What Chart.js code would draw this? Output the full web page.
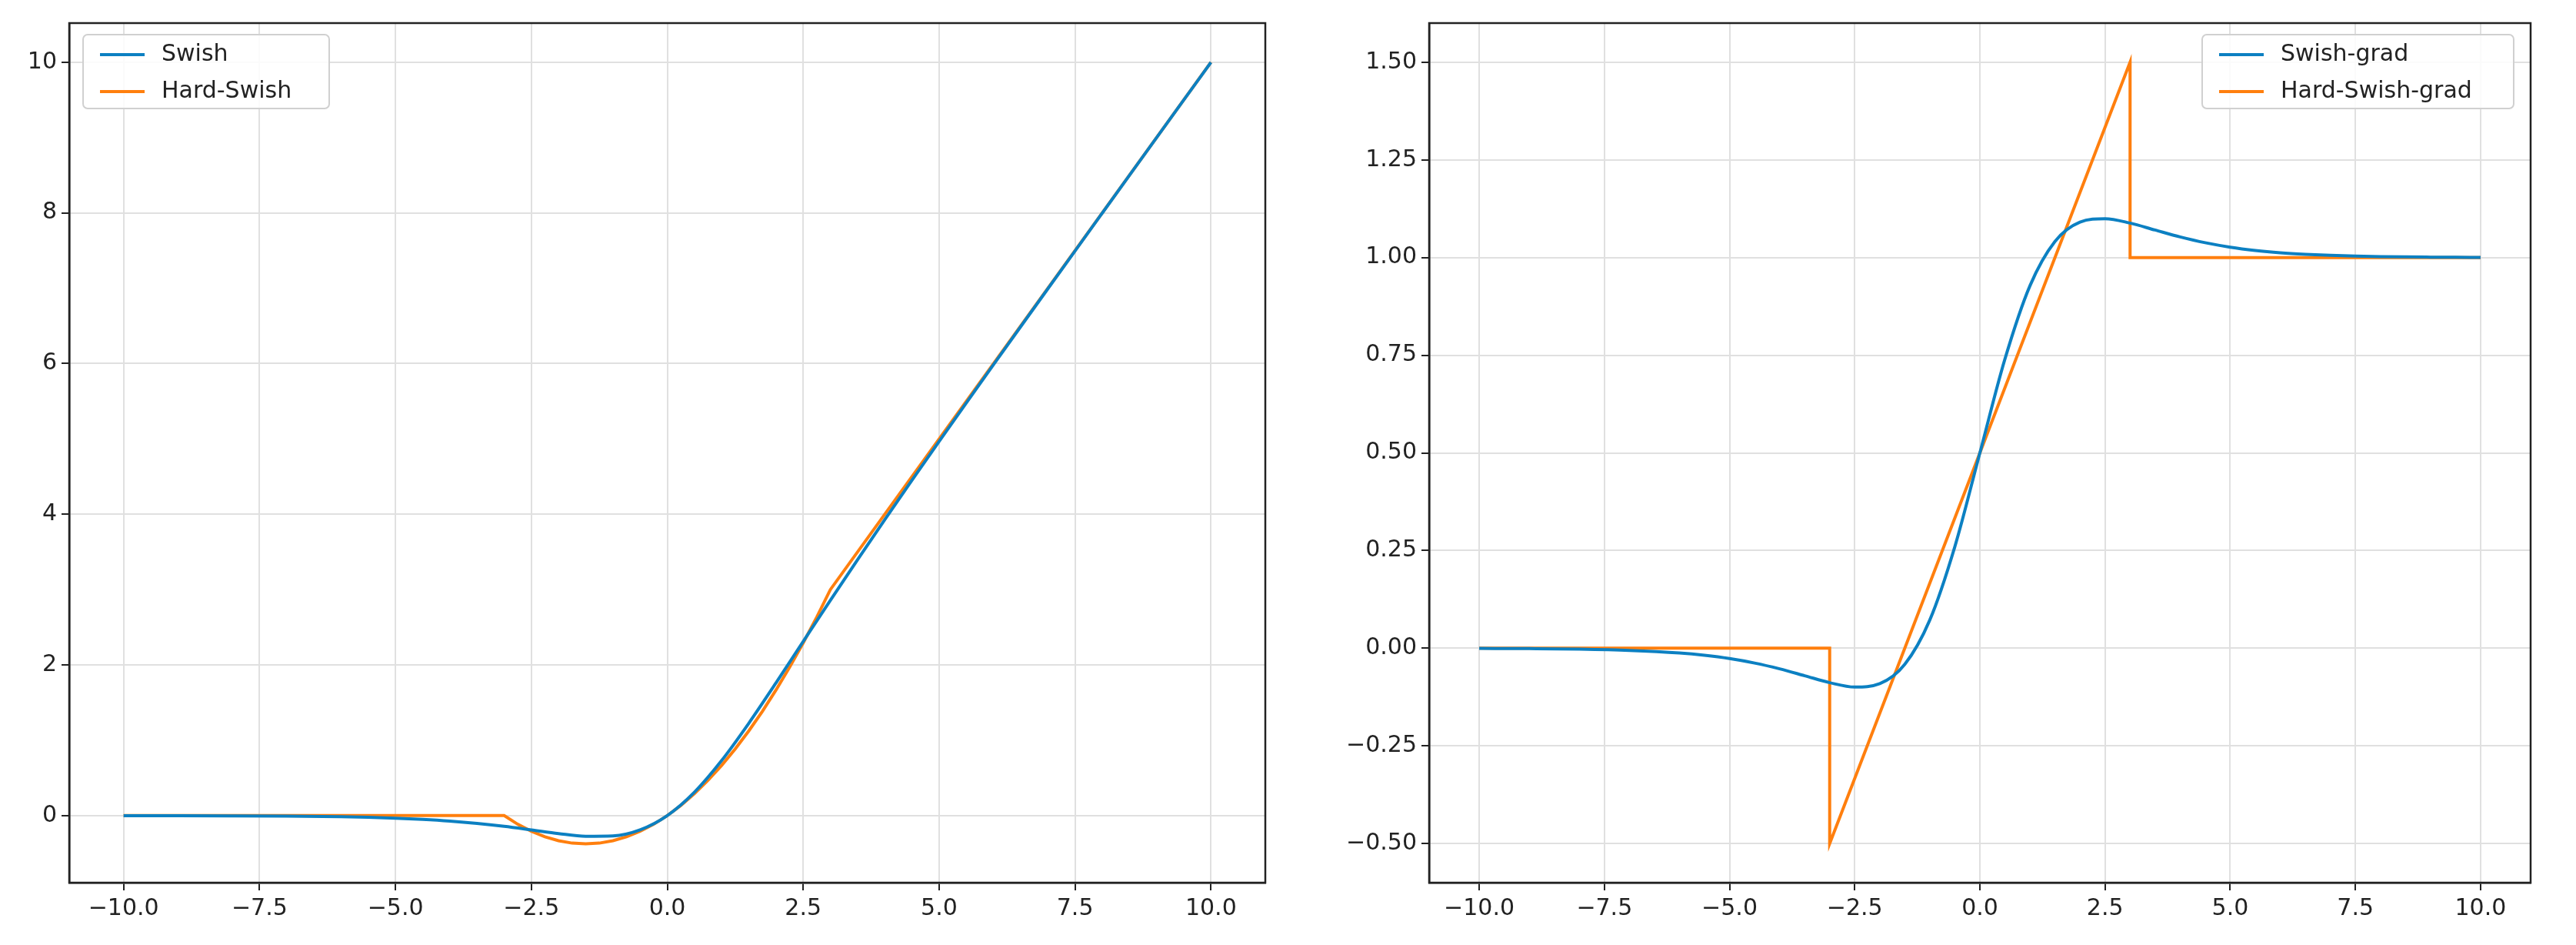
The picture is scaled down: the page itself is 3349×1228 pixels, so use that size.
<!DOCTYPE html>
<html><head><meta charset="utf-8">
<script src="https://cdn.jsdelivr.net/npm/chart.js@4/dist/chart.umd.min.js"></script>
<style>body{margin:0;background:#fff;width:3349px;height:1228px;overflow:hidden}
.c{position:absolute;top:0;height:1228px}</style></head><body>
<div class="c" style="left:0;width:1700px"><canvas id="a"></canvas></div>
<div class="c" style="left:1700px;width:1649px"><canvas id="b"></canvas></div>
<script>
const xs = [-10,-9,-8,-7,-6,-5.5,-5,-4.5,-4,-3.5,-3,-2.5,-2,-1.5,-1,-0.5,0,0.5,1,1.5,2,2.5,3,3.5,4,4.5,5,5.5,6,6.5,7,7.5,8,8.5,9,9.5,10];
const swish = [-0.0005,-0.0011,-0.0027,-0.0064,-0.0148,-0.0224,-0.0335,-0.0495,-0.0719,-0.1026,-0.1423,-0.1896,-0.2384,-0.2736,-0.2689,-0.1888,0,0.3112,0.7311,1.2264,1.7616,2.3104,2.8577,3.3974,3.9281,4.4505,4.9665,5.4776,5.9852,6.4902,6.9936,7.4959,7.9973,8.4983,8.9989,9.4993,9.9995];
const swishGrad = [-0.0004,-0.001,-0.0023,-0.0055,-0.0123,-0.0182,-0.0265,-0.0379,-0.0527,-0.0703,-0.0881,-0.0994,-0.0908,-0.0413,0.0723,0.26,0.5,0.74,0.9277,1.0413,1.0908,1.0994,1.0881,1.0703,1.0527,1.0379,1.0265,1.0182,1.0123,1.0083,1.0055,1.0036,1.0023,1.0015,1.001,1.0006,1.0004];
const hsX = [-10,-3,-2.75,-2.5,-2.25,-2,-1.75,-1.5,-1.25,-1,-0.75,-0.5,-0.25,0,0.25,0.5,0.75,1,1.25,1.5,1.75,2,2.25,2.5,2.75,3,10];
const hardSwish = [0,0,-0.115,-0.208,-0.281,-0.333,-0.365,-0.375,-0.365,-0.333,-0.281,-0.208,-0.115,0,0.135,0.292,0.469,0.667,0.885,1.125,1.385,1.667,1.969,2.292,2.635,3,10];
const hgX = [-10,-3,-3,3,3,10];
const hardSwishGrad = [0,0,-0.5,1.5,1,1];
const xTicks = [-10,-7.5,-5,-2.5,0,2.5,5,7.5,10];
const yTicksL = [0,2,4,6,8,10];
const yTicksR = [-0.5,-0.25,0,0.25,0.5,0.75,1,1.25,1.5];
const BLUE='#0c80c2', ORANGE='#ff7f0e', FONT='"DejaVu Sans"';
const pts=(x,y)=>x.map((v,i)=>({x:v,y:y[i]}));
const fmt=(v,d)=>(v<0?'\u2212':'')+Math.abs(v).toFixed(d);

function legendPlugin(box){return {id:'lg',afterDraw(ch){const c=ch.ctx;c.save();
 c.fillStyle='rgba(255,255,255,0.85)';c.strokeStyle='#d0d0d0';c.lineWidth=2;
 c.beginPath();c.roundRect(box.x,box.y,box.w,box.h,6);c.fill();c.stroke();
 c.font='30px '+FONT;c.textBaseline='middle';
 ch.data.datasets.forEach((d,i)=>{const yy=box.y+26+i*48;c.strokeStyle=d.borderColor;c.lineWidth=4;
  c.beginPath();c.moveTo(box.x+22,yy);c.lineTo(box.x+80,yy);c.stroke();c.fillStyle='#222';c.fillText(d.label,box.x+102,yy);});
 c.restore();}};}

function make(id,ds,ymin,ymax,yt,dec,left,right,box){
 new Chart(document.getElementById(id),{type:'line',data:{datasets:ds},
 options:{responsive:true,maintainAspectRatio:false,animation:false,
  layout:{padding:{top:30,right:right,left:0,bottom:0}},
  plugins:{legend:{display:false},tooltip:{enabled:false}},
  elements:{point:{radius:0},line:{borderWidth:4}},
  scales:{
   x:{type:'linear',min:-11,max:11,afterBuildTicks:a=>{a.ticks=xTicks.map(v=>({value:v}))},
      afterFit:a=>{a.height=81},
      ticks:{callback:v=>fmt(v,1),font:{size:30,family:FONT},color:'#222',padding:6},
      grid:{color:'#e0e0e0',lineWidth:2,tickLength:10,tickColor:'#222'},border:{color:'#222',width:2.5}},
   y:{min:ymin,max:ymax,afterBuildTicks:a=>{a.ticks=yt.map(v=>({value:v}))},
      afterFit:a=>{a.width=left},
      ticks:{callback:v=>fmt(v,dec),font:{size:30,family:FONT},color:'#222',padding:6},
      grid:{color:'#e0e0e0',lineWidth:2,tickLength:10,tickColor:'#222'},border:{color:'#222',width:2.5}}
  }},
 plugins:[{id:'frame',afterDraw(ch){const a=ch.chartArea,c=ch.ctx;c.save();c.strokeStyle='#222';c.lineWidth=2.5;c.strokeRect(a.left,a.top,a.right-a.left,a.bottom-a.top);c.restore();}},legendPlugin(box)]});
}
make('a',[
 {label:'Swish',data:pts(xs,swish),borderColor:BLUE,cubicInterpolationMode:'monotone'},
 {label:'Hard-Swish',data:pts(hsX,hardSwish),borderColor:ORANGE,tension:0}],
 -0.89,10.52,yTicksL,0,90,55,{x:108,y:45,w:320,h:96});
make('b',[
 {label:'Swish-grad',data:pts(xs,swishGrad),borderColor:BLUE,cubicInterpolationMode:'monotone'},
 {label:'Hard-Swish-grad',data:pts(hgX,hardSwishGrad),borderColor:ORANGE,tension:0}],
 -0.6,1.6,yTicksR,2,158,59,{x:1163,y:45,w:405,h:96});
</script></body></html>
